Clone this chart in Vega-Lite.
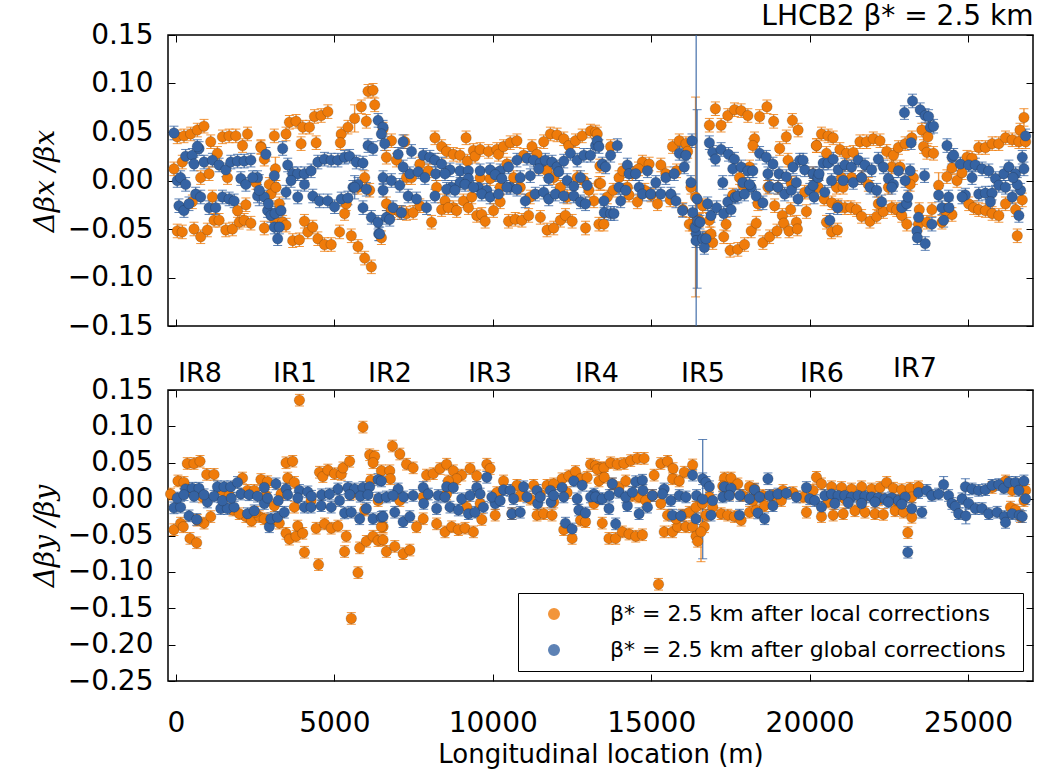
{
"$schema": "https://vega.github.io/schema/vega-lite/v6.json",
"background": "white",
"padding": {"left": 30, "top": 2, "right": 5, "bottom": 5},
"bounds": "flush",
"spacing": 64,
"config": {
 "view": {"stroke": "#000", "strokeWidth": 1.5},
 "font": "DejaVu Sans",
 "axis": {"domain": false, "grid": false, "labelFont": "DejaVu Sans", "labelFontSize": 28, "labelColor": "#000", "tickColor": "#000", "tickSize": -7, "tickWidth": 1, "labelPadding": 22, "titleFontSize": 27, "titleColor": "#000", "titleFontWeight": "normal", "labelFlush": false, "labelOverlap": false, "labelBound": false}
},
"datasets": {
"bx": [
{"s":"L","x":42,"y":0.045,"e":0.007},{"s":"L","x":254,"y":0.046,"e":0.007},{"s":"L","x":465,"y":0.048,"e":0.007},{"s":"L","x":676,"y":0.052,"e":0.007},{"s":"L","x":887,"y":0.056,"e":0.007},{"s":"L","x":1099,"y":0.040,"e":0.007},{"s":"L","x":1468,"y":0.045,"e":0.007},{"s":"L","x":1680,"y":0.046,"e":0.007},{"s":"L","x":1891,"y":0.046,"e":0.007},{"s":"L","x":2260,"y":0.048,"e":0.007},{"s":"L","x":2102,"y":0.036,"e":0.007},{"s":"L","x":2683,"y":0.035,"e":0.007},{"s":"L","x":3105,"y":0.046,"e":0.007},{"s":"L","x":3475,"y":0.048,"e":0.007},{"s":"L","x":3581,"y":0.060,"e":0.007},{"s":"L","x":3792,"y":0.061,"e":0.007},{"s":"L","x":4003,"y":0.055,"e":0.007},{"s":"L","x":4214,"y":0.055,"e":0.007},{"s":"L","x":4373,"y":0.066,"e":0.007},{"s":"L","x":4584,"y":0.067,"e":0.007},{"s":"L","x":4795,"y":0.071,"e":0.007},{"s":"L","x":3950,"y":0.038,"e":0.007},{"s":"L","x":4426,"y":0.039,"e":0.007},{"s":"L","x":5218,"y":0.048,"e":0.007},{"s":"L","x":5190,"y":0.039,"e":0.007},{"s":"L","x":5429,"y":0.055,"e":0.007},{"s":"L","x":5640,"y":0.064,"e":0.014},{"s":"L","x":5851,"y":0.076,"e":0.007},{"s":"L","x":6063,"y":0.092,"e":0.007},{"s":"L","x":6221,"y":0.093,"e":0.007},{"s":"L","x":6274,"y":0.078,"e":0.007},{"s":"L","x":6010,"y":0.061,"e":0.007},{"s":"L","x":5535,"y":-0.057,"e":0.007},{"s":"L","x":5746,"y":-0.068,"e":0.007},{"s":"L","x":5957,"y":-0.080,"e":0.007},{"s":"L","x":6168,"y":-0.089,"e":0.007},
{"s":"L","x":42,"y":-0.052,"e":0.007},{"s":"L","x":201,"y":-0.053,"e":0.007},{"s":"L","x":571,"y":-0.050,"e":0.007},{"s":"L","x":782,"y":-0.058,"e":0.007},{"s":"L","x":993,"y":-0.051,"e":0.007},{"s":"L","x":1204,"y":-0.041,"e":0.007},{"s":"L","x":1363,"y":-0.041,"e":0.007},{"s":"L","x":1574,"y":-0.051,"e":0.007},{"s":"L","x":1785,"y":-0.050,"e":0.007},{"s":"L","x":1997,"y":-0.043,"e":0.007},{"s":"L","x":2155,"y":-0.041,"e":0.007},{"s":"L","x":2366,"y":-0.044,"e":0.007},{"s":"L","x":2789,"y":-0.049,"e":0.007},{"s":"L","x":3105,"y":-0.040,"e":0.007},{"s":"L","x":3686,"y":-0.062,"e":0.007},{"s":"L","x":3897,"y":-0.061,"e":0.007},{"s":"L","x":4056,"y":-0.042,"e":0.007},{"s":"L","x":4162,"y":-0.053,"e":0.007},{"s":"L","x":4320,"y":-0.048,"e":0.007},{"s":"L","x":4479,"y":-0.060,"e":0.007},{"s":"L","x":4690,"y":-0.066,"e":0.007},{"s":"L","x":4901,"y":-0.066,"e":0.007},{"s":"L","x":5165,"y":-0.053,"e":0.007},
{"s":"L","x":-63,"y":0.012,"e":0.007},{"s":"L","x":201,"y":0.019,"e":0.007},{"s":"L","x":518,"y":-0.022,"e":0.007},{"s":"L","x":782,"y":0.003,"e":0.007},{"s":"L","x":1046,"y":0.007,"e":0.007},{"s":"L","x":1152,"y":-0.017,"e":0.007},{"s":"L","x":1310,"y":0.028,"e":0.007},{"s":"L","x":1627,"y":0.003,"e":0.007},{"s":"L","x":1944,"y":-0.031,"e":0.007},{"s":"L","x":2208,"y":-0.025,"e":0.007},{"s":"L","x":2525,"y":-0.002,"e":0.007},{"s":"L","x":2683,"y":0.034,"e":0.007},{"s":"L","x":2789,"y":0.022,"e":0.007},{"s":"L","x":2947,"y":-0.004,"e":0.007},{"s":"L","x":3000,"y":-0.014,"e":0.007},{"s":"L","x":3140,"y":0.012,"e":0.012},{"s":"L","x":3158,"y":-0.007,"e":0.007},{"s":"L","x":3264,"y":-0.024,"e":0.007},{"s":"L","x":3369,"y":-0.043,"e":0.007},{"s":"L","x":3475,"y":-0.046,"e":0.007},{"s":"L","x":5323,"y":-0.034,"e":0.007},{"s":"L","x":5376,"y":-0.024,"e":0.007},{"s":"L","x":5746,"y":-0.007,"e":0.007},{"s":"L","x":5957,"y":0.003,"e":0.007},{"s":"L","x":6115,"y":-0.010,"e":0.007},
{"s":"L","x":6538,"y":0.053,"e":0.007},{"s":"L","x":6802,"y":0.041,"e":0.007},{"s":"L","x":7224,"y":0.040,"e":0.007},{"s":"L","x":8175,"y":0.044,"e":0.007},{"s":"L","x":8386,"y":0.035,"e":0.007},{"s":"L","x":8544,"y":0.030,"e":0.007},{"s":"L","x":8756,"y":0.027,"e":0.007},{"s":"L","x":8967,"y":0.026,"e":0.007},{"s":"L","x":9157,"y":0.044,"e":0.007},{"s":"L","x":9199,"y":0.020,"e":0.007},{"s":"L","x":9389,"y":0.031,"e":0.007},{"s":"L","x":9442,"y":0.025,"e":0.007},{"s":"L","x":9601,"y":0.032,"e":0.007},{"s":"L","x":9865,"y":0.030,"e":0.007},{"s":"L","x":10129,"y":0.032,"e":0.007},{"s":"L","x":10182,"y":0.027,"e":0.007},{"s":"L","x":10340,"y":0.035,"e":0.007},{"s":"L","x":10551,"y":0.039,"e":0.007},{"s":"L","x":10763,"y":0.041,"e":0.007},{"s":"L","x":10974,"y":0.026,"e":0.007},{"s":"L","x":11238,"y":0.035,"e":0.007},{"s":"L","x":11396,"y":0.027,"e":0.007},{"s":"L","x":11607,"y":0.040,"e":0.007},{"s":"L","x":11819,"y":0.048,"e":0.007},{"s":"L","x":12030,"y":0.047,"e":0.007},{"s":"L","x":12241,"y":0.043,"e":0.007},{"s":"L","x":12400,"y":0.036,"e":0.007},{"s":"L","x":12611,"y":0.041,"e":0.007},{"s":"L","x":12822,"y":0.046,"e":0.007},{"s":"L","x":13086,"y":0.051,"e":0.007},{"s":"L","x":13244,"y":0.050,"e":0.007},{"s":"L","x":13350,"y":-0.003,"e":0.007},
{"s":"L","x":6643,"y":0.024,"e":0.007},{"s":"L","x":6960,"y":0.021,"e":0.007},{"s":"L","x":7277,"y":0.003,"e":0.007},{"s":"L","x":7435,"y":0.003,"e":0.007},{"s":"L","x":7699,"y":0.017,"e":0.007},{"s":"L","x":7963,"y":0.010,"e":0.007},{"s":"L","x":8228,"y":-0.007,"e":0.007},{"s":"L","x":8492,"y":-0.021,"e":0.007},{"s":"L","x":8756,"y":-0.028,"e":0.007},{"s":"L","x":9073,"y":-0.021,"e":0.007},{"s":"L","x":9337,"y":-0.017,"e":0.007},{"s":"L","x":9601,"y":0.003,"e":0.007},{"s":"L","x":9917,"y":0.002,"e":0.007},{"s":"L","x":10234,"y":-0.007,"e":0.007},{"s":"L","x":10445,"y":0.017,"e":0.007},{"s":"L","x":10657,"y":0.003,"e":0.007},{"s":"L","x":10868,"y":-0.007,"e":0.007},{"s":"L","x":11185,"y":-0.017,"e":0.007},{"s":"L","x":11502,"y":0.014,"e":0.007},{"s":"L","x":11713,"y":0.010,"e":0.007},{"s":"L","x":11924,"y":0.003,"e":0.007},{"s":"L","x":12135,"y":-0.007,"e":0.007},{"s":"L","x":12347,"y":-0.017,"e":0.007},{"s":"L","x":12664,"y":0.003,"e":0.007},{"s":"L","x":12875,"y":0.0,"e":0.007},{"s":"L","x":13033,"y":-0.010,"e":0.007},
{"s":"L","x":6485,"y":-0.059,"e":0.007},{"s":"L","x":6643,"y":-0.024,"e":0.007},{"s":"L","x":6802,"y":-0.031,"e":0.007},{"s":"L","x":7066,"y":-0.033,"e":0.007},{"s":"L","x":7277,"y":-0.034,"e":0.007},{"s":"L","x":7488,"y":-0.033,"e":0.007},{"s":"L","x":7699,"y":-0.026,"e":0.007},{"s":"L","x":8069,"y":-0.043,"e":0.007},{"s":"L","x":8386,"y":-0.030,"e":0.007},{"s":"L","x":8597,"y":-0.028,"e":0.007},{"s":"L","x":8861,"y":-0.031,"e":0.007},{"s":"L","x":9231,"y":-0.028,"e":0.007},{"s":"L","x":9495,"y":-0.036,"e":0.007},{"s":"L","x":9653,"y":-0.035,"e":0.007},{"s":"L","x":9759,"y":-0.042,"e":0.007},{"s":"L","x":10023,"y":-0.031,"e":0.007},{"s":"L","x":10234,"y":-0.022,"e":0.007},{"s":"L","x":10498,"y":-0.042,"e":0.007},{"s":"L","x":10710,"y":-0.040,"e":0.007},{"s":"L","x":10921,"y":-0.041,"e":0.007},{"s":"L","x":11132,"y":-0.036,"e":0.007},{"s":"L","x":11502,"y":-0.038,"e":0.007},{"s":"L","x":11713,"y":-0.051,"e":0.007},{"s":"L","x":11924,"y":-0.049,"e":0.007},{"s":"L","x":12135,"y":-0.041,"e":0.007},{"s":"L","x":12294,"y":-0.036,"e":0.007},{"s":"L","x":12505,"y":-0.042,"e":0.007},{"s":"L","x":12928,"y":-0.049,"e":0.007},{"s":"L","x":13192,"y":-0.021,"e":0.007},{"s":"L","x":13350,"y":-0.045,"e":0.007},
{"s":"L","x":13298,"y":0.048,"e":0.007},{"s":"L","x":13403,"y":-0.003,"e":0.007},{"s":"L","x":13509,"y":-0.045,"e":0.007},{"s":"L","x":13615,"y":-0.017,"e":0.007},{"s":"L","x":13720,"y":0.035,"e":0.007},{"s":"L","x":13984,"y":0.003,"e":0.007},{"s":"L","x":14248,"y":-0.007,"e":0.007},{"s":"L","x":14407,"y":0.007,"e":0.007},{"s":"L","x":14565,"y":-0.022,"e":0.007},{"s":"L","x":14724,"y":0.019,"e":0.007},{"s":"L","x":14935,"y":0.017,"e":0.007},{"s":"L","x":15199,"y":-0.024,"e":0.007},{"s":"L","x":15305,"y":0.016,"e":0.007},{"s":"L","x":15463,"y":0.007,"e":0.007},{"s":"L","x":15674,"y":0.035,"e":0.007},{"s":"L","x":15886,"y":0.041,"e":0.007},{"s":"L","x":16097,"y":0.038,"e":0.007},{"s":"L","x":16255,"y":-0.007,"e":0.007},{"s":"L","x":16308,"y":-0.045,"e":0.007},{"s":"L","x":13380,"y":0.015,"e":0.007},{"s":"L","x":13800,"y":-0.010,"e":0.007},{"s":"L","x":14100,"y":0.010,"e":0.007},{"s":"L","x":14300,"y":-0.015,"e":0.007},{"s":"L","x":14600,"y":0.012,"e":0.007},{"s":"L","x":14800,"y":-0.010,"e":0.007},{"s":"L","x":15000,"y":-0.015,"e":0.007},{"s":"L","x":15600,"y":-0.020,"e":0.007},{"s":"L","x":15800,"y":0.010,"e":0.007},{"s":"L","x":16000,"y":-0.030,"e":0.007},{"s":"L","x":16150,"y":0.030,"e":0.007},
{"s":"L","x":16400,"y":-0.017,"e":0.103},{"s":"L","x":16202,"y":-0.045,"e":0.007},{"s":"L","x":16361,"y":-0.048,"e":0.007},{"s":"L","x":16519,"y":-0.041,"e":0.007},{"s":"L","x":16625,"y":-0.026,"e":0.007},{"s":"L","x":16730,"y":-0.059,"e":0.007},
{"s":"L","x":16836,"y":0.057,"e":0.007},{"s":"L","x":17026,"y":0.074,"e":0.007},{"s":"L","x":17206,"y":0.057,"e":0.007},{"s":"L","x":17417,"y":0.067,"e":0.007},{"s":"L","x":17628,"y":0.073,"e":0.007},{"s":"L","x":17839,"y":0.072,"e":0.007},{"s":"L","x":18051,"y":0.067,"e":0.007},{"s":"L","x":18421,"y":0.066,"e":0.007},{"s":"L","x":18653,"y":0.076,"e":0.007},{"s":"L","x":18864,"y":0.061,"e":0.007},{"s":"L","x":19456,"y":0.062,"e":0.007},{"s":"L","x":19635,"y":0.052,"e":0.007},{"s":"L","x":19265,"y":0.045,"e":0.007},{"s":"L","x":19054,"y":0.033,"e":0.007},{"s":"L","x":18262,"y":0.043,"e":0.007},{"s":"L","x":18209,"y":0.036,"e":0.007},
{"s":"L","x":16942,"y":-0.064,"e":0.007},{"s":"L","x":17290,"y":-0.058,"e":0.007},{"s":"L","x":17491,"y":-0.072,"e":0.007},{"s":"L","x":17734,"y":-0.071,"e":0.007},{"s":"L","x":17945,"y":-0.066,"e":0.007},{"s":"L","x":18156,"y":-0.052,"e":0.007},{"s":"L","x":18315,"y":-0.044,"e":0.007},{"s":"L","x":18526,"y":-0.064,"e":0.007},{"s":"L","x":18737,"y":-0.058,"e":0.007},{"s":"L","x":18970,"y":-0.052,"e":0.007},{"s":"L","x":19139,"y":-0.036,"e":0.007},{"s":"L","x":19181,"y":-0.044,"e":0.007},{"s":"L","x":19350,"y":-0.052,"e":0.007},{"s":"L","x":19403,"y":-0.030,"e":0.007},{"s":"L","x":19582,"y":-0.043,"e":0.007},{"s":"L","x":19614,"y":-0.050,"e":0.007},{"s":"L","x":19899,"y":-0.032,"e":0.007},{"s":"L","x":18896,"y":-0.026,"e":0.007},
{"s":"L","x":16836,"y":-0.041,"e":0.007},{"s":"L","x":16889,"y":-0.055,"e":0.007},{"s":"L","x":17364,"y":-0.045,"e":0.007},{"s":"L","x":17575,"y":-0.015,"e":0.007},{"s":"L","x":17787,"y":0.003,"e":0.007},{"s":"L","x":17892,"y":-0.005,"e":0.007},{"s":"L","x":18104,"y":0.014,"e":0.007},{"s":"L","x":18368,"y":-0.024,"e":0.007},{"s":"L","x":18684,"y":-0.007,"e":0.007},{"s":"L","x":19001,"y":-0.007,"e":0.007},{"s":"L","x":19318,"y":0.021,"e":0.007},{"s":"L","x":19424,"y":-0.003,"e":0.007},{"s":"L","x":19846,"y":-0.012,"e":0.007},{"s":"L","x":20110,"y":0.007,"e":0.007},{"s":"L","x":20216,"y":0.036,"e":0.007},
{"s":"L","x":20215,"y":0.036,"e":0.007},{"s":"L","x":20374,"y":0.048,"e":0.007},{"s":"L","x":20585,"y":0.046,"e":0.007},{"s":"L","x":20744,"y":0.044,"e":0.007},{"s":"L","x":20532,"y":0.028,"e":0.007},{"s":"L","x":20955,"y":0.032,"e":0.007},{"s":"L","x":21166,"y":0.028,"e":0.007},{"s":"L","x":21377,"y":0.029,"e":0.007},{"s":"L","x":21588,"y":0.040,"e":0.007},{"s":"L","x":21800,"y":0.040,"e":0.007},{"s":"L","x":22011,"y":0.043,"e":0.007},{"s":"L","x":22222,"y":0.041,"e":0.007},{"s":"L","x":22433,"y":0.030,"e":0.007},{"s":"L","x":22645,"y":0.026,"e":0.007},{"s":"L","x":22803,"y":0.034,"e":0.007},{"s":"L","x":23014,"y":0.038,"e":0.007},{"s":"L","x":23226,"y":0.044,"e":0.007},{"s":"L","x":23542,"y":0.052,"e":0.007},{"s":"L","x":23733,"y":0.045,"e":0.007},{"s":"L","x":23595,"y":0.035,"e":0.007},{"s":"L","x":23701,"y":0.029,"e":0.007},{"s":"L","x":23912,"y":0.028,"e":0.007},
{"s":"L","x":20268,"y":-0.007,"e":0.007},{"s":"L","x":20849,"y":-0.007,"e":0.007},{"s":"L","x":21060,"y":-0.007,"e":0.007},{"s":"L","x":20532,"y":-0.043,"e":0.007},{"s":"L","x":20691,"y":-0.053,"e":0.007},{"s":"L","x":20881,"y":-0.051,"e":0.007},{"s":"L","x":20458,"y":-0.019,"e":0.007},{"s":"L","x":20700,"y":-0.023,"e":0.007},{"s":"L","x":20902,"y":-0.026,"e":0.007},{"s":"L","x":21113,"y":-0.028,"e":0.007},{"s":"L","x":21303,"y":-0.028,"e":0.007},{"s":"L","x":21483,"y":-0.030,"e":0.007},{"s":"L","x":21641,"y":-0.037,"e":0.007},{"s":"L","x":21905,"y":-0.042,"e":0.007},{"s":"L","x":22117,"y":-0.037,"e":0.007},{"s":"L","x":22328,"y":-0.032,"e":0.007},{"s":"L","x":22592,"y":-0.028,"e":0.007},{"s":"L","x":22750,"y":-0.030,"e":0.007},{"s":"L","x":22909,"y":-0.036,"e":0.007},{"s":"L","x":23067,"y":-0.045,"e":0.007},{"s":"L","x":23437,"y":-0.045,"e":0.007},{"s":"L","x":23701,"y":-0.043,"e":0.007},{"s":"L","x":23460,"y":-0.030,"e":0.007},{"s":"L","x":23859,"y":-0.030,"e":0.007},{"s":"L","x":24071,"y":-0.005,"e":0.013},{"s":"L","x":24333,"y":0.004,"e":0.007},{"s":"L","x":24493,"y":0.013,"e":0.007},{"s":"L","x":24651,"y":0.0,"e":0.007},{"s":"L","x":24810,"y":0.008,"e":0.007},{"s":"L","x":24968,"y":0.024,"e":0.007},{"s":"L","x":25127,"y":0.023,"e":0.007},{"s":"L","x":25338,"y":0.034,"e":0.007},{"s":"L","x":25549,"y":0.034,"e":0.007},{"s":"L","x":25760,"y":0.038,"e":0.007},{"s":"L","x":25972,"y":0.038,"e":0.007},{"s":"L","x":26183,"y":0.044,"e":0.007},{"s":"L","x":26394,"y":0.042,"e":0.007},{"s":"L","x":26605,"y":0.040,"e":0.007},{"s":"L","x":26817,"y":0.040,"e":0.007},{"s":"L","x":26640,"y":0.052,"e":0.007},{"s":"L","x":26764,"y":0.065,"e":0.009},{"s":"L","x":25021,"y":-0.024,"e":0.007},{"s":"L","x":25180,"y":-0.028,"e":0.007},{"s":"L","x":25338,"y":-0.030,"e":0.007},{"s":"L","x":25549,"y":-0.031,"e":0.007},{"s":"L","x":25760,"y":-0.034,"e":0.007},{"s":"L","x":25972,"y":-0.036,"e":0.007},{"s":"L","x":26183,"y":-0.024,"e":0.007},{"s":"L","x":26500,"y":-0.030,"e":0.007},{"s":"L","x":26553,"y":-0.057,"e":0.007},{"s":"L","x":26711,"y":-0.020,"e":0.007},{"s":"L","x":24493,"y":-0.035,"e":0.007},{"s":"L","x":24282,"y":-0.031,"e":0.007},{"s":"L","x":24176,"y":-0.043,"e":0.007},{"s":"L","x":22592,"y":0.014,"e":0.007},{"s":"L","x":22856,"y":0.014,"e":0.007},{"s":"L","x":22486,"y":-0.007,"e":0.007},{"s":"L","x":22169,"y":-0.024,"e":0.007},{"s":"L","x":21852,"y":-0.004,"e":0.007},{"s":"L","x":21641,"y":0.003,"e":0.007},{"s":"L","x":21324,"y":0.003,"e":0.007},{"s":"L","x":21008,"y":0.003,"e":0.007},{"s":"L","x":23278,"y":0.003,"e":0.007},{"s":"L","x":23173,"y":-0.004,"e":0.007},
{"s":"G","x":-63,"y":0.049,"e":0.007},{"s":"G","x":307,"y":0.025,"e":0.007},{"s":"G","x":518,"y":0.026,"e":0.007},{"s":"G","x":571,"y":0.017,"e":0.007},{"s":"G","x":729,"y":0.033,"e":0.007},{"s":"G","x":887,"y":0.019,"e":0.007},{"s":"G","x":1152,"y":0.021,"e":0.007},{"s":"G","x":1363,"y":0.016,"e":0.007},{"s":"G","x":1574,"y":0.011,"e":0.007},{"s":"G","x":1732,"y":0.019,"e":0.007},{"s":"G","x":1944,"y":0.020,"e":0.007},{"s":"G","x":2155,"y":0.020,"e":0.007},{"s":"G","x":2366,"y":0.021,"e":0.007},{"s":"G","x":2577,"y":0.003,"e":0.007},{"s":"G","x":2841,"y":0.027,"e":0.007},{"s":"G","x":3105,"y":0.005,"e":0.007},{"s":"G","x":3369,"y":0.033,"e":0.007},{"s":"G","x":3528,"y":0.016,"e":0.007},{"s":"G","x":3686,"y":0.007,"e":0.007},{"s":"G","x":3845,"y":0.007,"e":0.007},{"s":"G","x":4056,"y":0.007,"e":0.007},{"s":"G","x":4267,"y":0.010,"e":0.007},{"s":"G","x":4479,"y":0.019,"e":0.007},{"s":"G","x":4690,"y":0.022,"e":0.007},{"s":"G","x":4901,"y":0.021,"e":0.007},{"s":"G","x":5112,"y":0.021,"e":0.007},{"s":"G","x":5323,"y":0.024,"e":0.007},{"s":"G","x":5482,"y":0.025,"e":0.007},{"s":"G","x":5693,"y":0.019,"e":0.007},{"s":"G","x":5904,"y":0.018,"e":0.007},{"s":"G","x":6063,"y":0.036,"e":0.007},{"s":"G","x":6221,"y":0.033,"e":0.007},{"s":"G","x":6380,"y":0.062,"e":0.007},{"s":"G","x":6538,"y":0.055,"e":0.007},{"s":"G","x":6485,"y":0.048,"e":0.007},
{"s":"G","x":42,"y":0.0,"e":0.007},{"s":"G","x":148,"y":0.003,"e":0.007},{"s":"G","x":307,"y":-0.004,"e":0.007},{"s":"G","x":623,"y":-0.014,"e":0.007},{"s":"G","x":782,"y":-0.017,"e":0.007},{"s":"G","x":1046,"y":-0.028,"e":0.007},{"s":"G","x":1257,"y":-0.028,"e":0.007},{"s":"G","x":1468,"y":-0.017,"e":0.007},{"s":"G","x":1680,"y":-0.019,"e":0.007},{"s":"G","x":1838,"y":-0.021,"e":0.007},{"s":"G","x":2049,"y":0.002,"e":0.007},{"s":"G","x":2208,"y":-0.004,"e":0.007},{"s":"G","x":2419,"y":0.003,"e":0.007},{"s":"G","x":2577,"y":-0.016,"e":0.007},{"s":"G","x":2789,"y":-0.017,"e":0.007},{"s":"G","x":2894,"y":-0.031,"e":0.007},{"s":"G","x":3000,"y":-0.036,"e":0.007},{"s":"G","x":3105,"y":-0.048,"e":0.007},{"s":"G","x":3264,"y":-0.048,"e":0.007},{"s":"G","x":3211,"y":-0.060,"e":0.007},{"s":"G","x":3475,"y":-0.012,"e":0.007},{"s":"G","x":3634,"y":0.0,"e":0.007},{"s":"G","x":3845,"y":-0.017,"e":0.007},{"s":"G","x":4056,"y":-0.004,"e":0.007},{"s":"G","x":4320,"y":-0.016,"e":0.007},{"s":"G","x":4531,"y":-0.021,"e":0.007},{"s":"G","x":4795,"y":-0.021,"e":0.007},{"s":"G","x":5007,"y":-0.027,"e":0.007},{"s":"G","x":5218,"y":-0.019,"e":0.007},{"s":"G","x":5429,"y":-0.018,"e":0.007},{"s":"G","x":5587,"y":-0.007,"e":0.007},{"s":"G","x":5746,"y":-0.004,"e":0.007},{"s":"G","x":5904,"y":-0.028,"e":0.007},{"s":"G","x":6010,"y":-0.009,"e":0.007},{"s":"G","x":6168,"y":-0.038,"e":0.007},{"s":"G","x":6380,"y":-0.043,"e":0.007},{"s":"G","x":6400,"y":-0.055,"e":0.007},{"s":"G","x":6538,"y":-0.010,"e":0.007},{"s":"G","x":95,"y":-0.026,"e":0.007},{"s":"G","x":254,"y":-0.031,"e":0.007},{"s":"G","x":412,"y":-0.024,"e":0.007},{"s":"G","x":676,"y":0.035,"e":0.007},{"s":"G","x":2920,"y":-0.024,"e":0.007},{"s":"G","x":3130,"y":-0.034,"e":0.007},{"s":"G","x":3317,"y":-0.031,"e":0.007},{"s":"G","x":2630,"y":-0.010,"e":0.016},{"s":"G","x":5640,"y":-0.007,"e":0.012},
{"s":"G","x":6590,"y":0.038,"e":0.007},{"s":"G","x":7171,"y":0.040,"e":0.007},{"s":"G","x":7435,"y":0.030,"e":0.007},{"s":"G","x":7013,"y":0.027,"e":0.007},{"s":"G","x":7805,"y":0.026,"e":0.007},{"s":"G","x":8016,"y":0.024,"e":0.007},{"s":"G","x":8175,"y":0.021,"e":0.007},{"s":"G","x":8386,"y":0.017,"e":0.007},{"s":"G","x":8650,"y":0.011,"e":0.007},{"s":"G","x":8967,"y":0.010,"e":0.007},{"s":"G","x":9231,"y":0.010,"e":0.007},{"s":"G","x":9601,"y":0.010,"e":0.007},{"s":"G","x":9917,"y":0.011,"e":0.007},{"s":"G","x":10234,"y":0.010,"e":0.007},{"s":"G","x":10498,"y":0.014,"e":0.007},{"s":"G","x":10763,"y":0.021,"e":0.007},{"s":"G","x":11079,"y":0.023,"e":0.007},{"s":"G","x":11290,"y":0.021,"e":0.007},{"s":"G","x":11502,"y":0.018,"e":0.007},{"s":"G","x":11660,"y":0.021,"e":0.007},{"s":"G","x":11871,"y":0.019,"e":0.007},{"s":"G","x":12030,"y":0.014,"e":0.007},{"s":"G","x":12241,"y":0.020,"e":0.007},{"s":"G","x":12452,"y":0.028,"e":0.007},{"s":"G","x":12664,"y":0.021,"e":0.007},{"s":"G","x":12875,"y":0.026,"e":0.007},{"s":"G","x":13086,"y":0.026,"e":0.007},{"s":"G","x":13244,"y":0.036,"e":0.007},
{"s":"G","x":6538,"y":0.003,"e":0.007},{"s":"G","x":6802,"y":0.0,"e":0.007},{"s":"G","x":7066,"y":-0.005,"e":0.007},{"s":"G","x":7382,"y":0.007,"e":0.007},{"s":"G","x":7646,"y":0.009,"e":0.007},{"s":"G","x":7858,"y":0.003,"e":0.007},{"s":"G","x":8200,"y":0.007,"e":0.007},{"s":"G","x":8492,"y":0.007,"e":0.007},{"s":"G","x":8703,"y":-0.007,"e":0.007},{"s":"G","x":8967,"y":-0.002,"e":0.007},{"s":"G","x":9231,"y":0.002,"e":0.007},{"s":"G","x":9548,"y":-0.007,"e":0.007},{"s":"G","x":9812,"y":-0.010,"e":0.007},{"s":"G","x":10076,"y":0.006,"e":0.007},{"s":"G","x":10287,"y":0.002,"e":0.007},{"s":"G","x":10551,"y":-0.007,"e":0.007},{"s":"G","x":10868,"y":0.003,"e":0.007},{"s":"G","x":11185,"y":0.005,"e":0.007},{"s":"G","x":11449,"y":0.012,"e":0.007},{"s":"G","x":11766,"y":0.002,"e":0.007},{"s":"G","x":12082,"y":0.009,"e":0.007},{"s":"G","x":12347,"y":0.0,"e":0.007},{"s":"G","x":12558,"y":-0.006,"e":0.007},{"s":"G","x":12769,"y":0.003,"e":0.007},{"s":"G","x":12980,"y":-0.005,"e":0.007},
{"s":"G","x":6643,"y":-0.038,"e":0.007},{"s":"G","x":6854,"y":-0.028,"e":0.007},{"s":"G","x":7119,"y":-0.033,"e":0.007},{"s":"G","x":7330,"y":-0.016,"e":0.007},{"s":"G","x":7594,"y":-0.019,"e":0.007},{"s":"G","x":7910,"y":-0.028,"e":0.007},{"s":"G","x":8175,"y":-0.016,"e":0.007},{"s":"G","x":8544,"y":-0.009,"e":0.007},{"s":"G","x":8808,"y":-0.010,"e":0.007},{"s":"G","x":9125,"y":-0.004,"e":0.007},{"s":"G","x":9389,"y":-0.007,"e":0.007},{"s":"G","x":9653,"y":-0.014,"e":0.007},{"s":"G","x":9917,"y":-0.017,"e":0.007},{"s":"G","x":10182,"y":-0.014,"e":0.007},{"s":"G","x":10445,"y":-0.007,"e":0.007},{"s":"G","x":10763,"y":-0.009,"e":0.007},{"s":"G","x":11026,"y":-0.021,"e":0.007},{"s":"G","x":11343,"y":-0.014,"e":0.007},{"s":"G","x":11607,"y":-0.012,"e":0.007},{"s":"G","x":11766,"y":-0.019,"e":0.007},{"s":"G","x":11977,"y":-0.014,"e":0.007},{"s":"G","x":12241,"y":-0.016,"e":0.007},{"s":"G","x":12558,"y":-0.016,"e":0.007},{"s":"G","x":12769,"y":-0.022,"e":0.007},{"s":"G","x":12928,"y":-0.024,"e":0.007},{"s":"G","x":6432,"y":-0.055,"e":0.007},{"s":"G","x":6749,"y":-0.040,"e":0.007},{"s":"G","x":7171,"y":0.014,"e":0.007},
{"s":"G","x":13298,"y":0.041,"e":0.007},{"s":"G","x":13351,"y":0.035,"e":0.007},{"s":"G","x":13456,"y":0.017,"e":0.007},{"s":"G","x":13562,"y":0.014,"e":0.007},{"s":"G","x":13720,"y":0.026,"e":0.007},{"s":"G","x":13932,"y":0.036,"e":0.007},{"s":"G","x":13509,"y":-0.021,"e":0.007},{"s":"G","x":13520,"y":-0.033,"e":0.007},{"s":"G","x":13720,"y":-0.034,"e":0.007},{"s":"G","x":13826,"y":-0.034,"e":0.007},{"s":"G","x":13984,"y":-0.007,"e":0.007},{"s":"G","x":14037,"y":-0.021,"e":0.007},{"s":"G","x":14196,"y":-0.010,"e":0.007},{"s":"G","x":14248,"y":0.016,"e":0.007},{"s":"G","x":14301,"y":0.007,"e":0.007},{"s":"G","x":14512,"y":0.007,"e":0.007},{"s":"G","x":14618,"y":-0.007,"e":0.007},{"s":"G","x":14724,"y":-0.014,"e":0.007},{"s":"G","x":14882,"y":0.010,"e":0.007},{"s":"G","x":14988,"y":-0.014,"e":0.007},{"s":"G","x":15146,"y":-0.002,"e":0.007},{"s":"G","x":15305,"y":-0.014,"e":0.007},{"s":"G","x":15463,"y":0.003,"e":0.007},{"s":"G","x":15621,"y":-0.014,"e":0.007},{"s":"G","x":15727,"y":0.007,"e":0.007},{"s":"G","x":15780,"y":-0.021,"e":0.007},{"s":"G","x":15886,"y":0.028,"e":0.007},{"s":"G","x":15991,"y":-0.031,"e":0.007},{"s":"G","x":16044,"y":0.014,"e":0.007},{"s":"G","x":16097,"y":0.026,"e":0.007},{"s":"G","x":16255,"y":-0.002,"e":0.007},{"s":"G","x":16308,"y":-0.033,"e":0.007},{"s":"G","x":16287,"y":0.041,"e":0.007},
{"s":"G","x":16420,"y":-0.055,"e":0.3},{"s":"G","x":16450,"y":-0.019,"e":0.092},{"s":"G","x":16392,"y":-0.048,"e":0.007},{"s":"G","x":16466,"y":-0.042,"e":0.007},{"s":"G","x":16540,"y":-0.043,"e":0.007},{"s":"G","x":16414,"y":-0.062,"e":0.007},{"s":"G","x":16625,"y":-0.060,"e":0.007},{"s":"G","x":16678,"y":-0.069,"e":0.007},{"s":"G","x":16730,"y":-0.060,"e":0.007},{"s":"G","x":16783,"y":-0.024,"e":0.007},{"s":"G","x":16889,"y":-0.036,"e":0.007},{"s":"G","x":17068,"y":-0.028,"e":0.007},{"s":"G","x":17290,"y":-0.034,"e":0.007},{"s":"G","x":17417,"y":-0.022,"e":0.007},{"s":"G","x":17522,"y":-0.030,"e":0.007},
{"s":"G","x":16836,"y":0.039,"e":0.007},{"s":"G","x":16942,"y":0.029,"e":0.007},{"s":"G","x":17026,"y":0.022,"e":0.007},{"s":"G","x":17206,"y":0.032,"e":0.007},{"s":"G","x":17440,"y":0.027,"e":0.007},{"s":"G","x":17628,"y":0.022,"e":0.007},{"s":"G","x":17259,"y":-0.002,"e":0.007},{"s":"G","x":17575,"y":0.012,"e":0.007},{"s":"G","x":17839,"y":0.014,"e":0.007},{"s":"G","x":18051,"y":0.010,"e":0.007},{"s":"G","x":18209,"y":0.010,"e":0.007},{"s":"G","x":18421,"y":0.028,"e":0.007},{"s":"G","x":18632,"y":0.024,"e":0.007},{"s":"G","x":18843,"y":0.017,"e":0.007},{"s":"G","x":19033,"y":0.007,"e":0.007},{"s":"G","x":19265,"y":0.004,"e":0.007},{"s":"G","x":19477,"y":0.014,"e":0.007},{"s":"G","x":19688,"y":0.021,"e":0.007},{"s":"G","x":19846,"y":0.011,"e":0.007},{"s":"G","x":20110,"y":0.007,"e":0.007},{"s":"G","x":17892,"y":-0.002,"e":0.007},{"s":"G","x":18156,"y":-0.007,"e":0.007},{"s":"G","x":18315,"y":-0.016,"e":0.007},{"s":"G","x":18526,"y":-0.023,"e":0.007},{"s":"G","x":18737,"y":-0.006,"e":0.007},{"s":"G","x":19001,"y":-0.007,"e":0.007},{"s":"G","x":19213,"y":-0.014,"e":0.007},{"s":"G","x":19424,"y":-0.010,"e":0.007},{"s":"G","x":19635,"y":-0.019,"e":0.007},{"s":"G","x":20005,"y":-0.010,"e":0.007},{"s":"G","x":17650,"y":-0.017,"e":0.007},{"s":"G","x":17734,"y":-0.016,"e":0.007},{"s":"G","x":17945,"y":-0.014,"e":0.007},{"s":"G","x":18104,"y":-0.004,"e":0.007},{"s":"G","x":18684,"y":0.007,"e":0.007},{"s":"G","x":19582,"y":-0.002,"e":0.007},{"s":"G","x":19794,"y":0.021,"e":0.007},
{"s":"G","x":20110,"y":-0.005,"e":0.007},{"s":"G","x":20140,"y":-0.017,"e":0.007},{"s":"G","x":20479,"y":-0.012,"e":0.007},{"s":"G","x":20881,"y":-0.028,"e":0.007},{"s":"G","x":20638,"y":-0.041,"e":0.007},{"s":"G","x":20268,"y":0.003,"e":0.007},{"s":"G","x":20427,"y":0.018,"e":0.007},{"s":"G","x":20585,"y":0.018,"e":0.007},{"s":"G","x":20744,"y":0.022,"e":0.007},{"s":"G","x":20902,"y":0.011,"e":0.007},{"s":"G","x":21113,"y":0.016,"e":0.007},{"s":"G","x":21324,"y":0.014,"e":0.007},{"s":"G","x":21536,"y":0.021,"e":0.007},{"s":"G","x":21747,"y":0.016,"e":0.007},{"s":"G","x":21958,"y":0.011,"e":0.007},{"s":"G","x":22169,"y":0.022,"e":0.007},{"s":"G","x":22328,"y":0.014,"e":0.007},{"s":"G","x":22486,"y":0.002,"e":0.007},{"s":"G","x":22645,"y":-0.004,"e":0.007},{"s":"G","x":22803,"y":0.010,"e":0.007},{"s":"G","x":23014,"y":0.0,"e":0.007},{"s":"G","x":23173,"y":0.010,"e":0.007},{"s":"G","x":23204,"y":0.039,"e":0.007},{"s":"G","x":22993,"y":0.070,"e":0.007},{"s":"G","x":23247,"y":0.082,"e":0.007},{"s":"G","x":23490,"y":0.073,"e":0.007},{"s":"G","x":23648,"y":0.067,"e":0.007},{"s":"G","x":23754,"y":0.066,"e":0.007},{"s":"G","x":23807,"y":0.055,"e":0.007},{"s":"G","x":23912,"y":0.056,"e":0.007},{"s":"G","x":23627,"y":0.005,"e":0.007},
{"s":"G","x":20300,"y":0.007,"e":0.007},{"s":"G","x":20691,"y":0.0,"e":0.007},{"s":"G","x":21060,"y":0.0,"e":0.007},{"s":"G","x":21377,"y":-0.002,"e":0.007},{"s":"G","x":21641,"y":0.003,"e":0.007},{"s":"G","x":21905,"y":-0.007,"e":0.007},{"s":"G","x":22117,"y":-0.010,"e":0.007},{"s":"G","x":22275,"y":-0.022,"e":0.007},{"s":"G","x":22592,"y":-0.007,"e":0.007},{"s":"G","x":22909,"y":-0.028,"e":0.007},{"s":"G","x":23067,"y":-0.024,"e":0.007},{"s":"G","x":23100,"y":-0.017,"e":0.007},{"s":"G","x":23437,"y":-0.038,"e":0.007},{"s":"G","x":23384,"y":-0.052,"e":0.007},{"s":"G","x":23400,"y":-0.059,"e":0.007},{"s":"G","x":23648,"y":-0.065,"e":0.007},{"s":"G","x":23859,"y":-0.045,"e":0.007},{"s":"G","x":24071,"y":-0.015,"e":0.007},{"s":"G","x":24176,"y":-0.028,"e":0.007},{"s":"G","x":24229,"y":-0.041,"e":0.007},{"s":"G","x":24387,"y":-0.017,"e":0.007},{"s":"G","x":24400,"y":-0.028,"e":0.007},{"s":"G","x":24335,"y":0.036,"e":0.007},{"s":"G","x":24493,"y":0.024,"e":0.007},{"s":"G","x":24546,"y":0.026,"e":0.007},{"s":"G","x":24757,"y":0.017,"e":0.007},{"s":"G","x":25021,"y":0.016,"e":0.007},{"s":"G","x":25232,"y":0.016,"e":0.007},{"s":"G","x":25444,"y":0.012,"e":0.007},{"s":"G","x":25655,"y":0.010,"e":0.007},{"s":"G","x":25866,"y":0.002,"e":0.007},{"s":"G","x":26130,"y":0.007,"e":0.007},{"s":"G","x":26289,"y":0.014,"e":0.007},{"s":"G","x":26500,"y":0.007,"e":0.007},{"s":"G","x":26764,"y":0.012,"e":0.007},{"s":"G","x":26711,"y":0.024,"e":0.007},{"s":"G","x":26817,"y":0.046,"e":0.007},{"s":"G","x":26658,"y":-0.010,"e":0.007},{"s":"G","x":26605,"y":-0.036,"e":0.007},{"s":"G","x":24916,"y":-0.015,"e":0.007},{"s":"G","x":25127,"y":0.003,"e":0.007},{"s":"G","x":25338,"y":-0.014,"e":0.007},{"s":"G","x":25549,"y":-0.013,"e":0.007},{"s":"G","x":25760,"y":-0.013,"e":0.007},{"s":"G","x":25972,"y":-0.005,"e":0.007},{"s":"G","x":26183,"y":-0.007,"e":0.007},{"s":"G","x":26394,"y":-0.017,"e":0.007},{"s":"G","x":26553,"y":-0.004,"e":0.007},{"s":"G","x":26420,"y":0.003,"e":0.007},{"s":"G","x":25707,"y":-0.022,"e":0.007},{"s":"G","x":24810,"y":-0.017,"e":0.007}
],
"by": [
{"s":"L","x":3898,"y":0.136,"e":0.008},{"s":"L","x":5904,"y":0.099,"e":0.008},{"s":"L","x":359,"y":0.049,"e":0.008},{"s":"L","x":571,"y":0.049,"e":0.008},{"s":"L","x":761,"y":0.052,"e":0.008},{"s":"L","x":972,"y":0.034,"e":0.008},{"s":"L","x":1204,"y":0.034,"e":0.008},{"s":"L","x":3475,"y":0.050,"e":0.008},{"s":"L","x":3686,"y":0.052,"e":0.008},{"s":"L","x":64,"y":0.025,"e":0.008},{"s":"L","x":254,"y":0.023,"e":0.008},{"s":"L","x":2102,"y":0.029,"e":0.008},{"s":"L","x":2683,"y":0.027,"e":0.008},{"s":"L","x":2894,"y":0.024,"e":0.008},{"s":"L","x":3528,"y":0.029,"e":0.008},{"s":"L","x":3739,"y":0.023,"e":0.008},{"s":"L","x":4531,"y":0.037,"e":0.008},{"s":"L","x":4637,"y":0.031,"e":0.008},{"s":"L","x":4795,"y":0.040,"e":0.008},{"s":"L","x":5007,"y":0.035,"e":0.008},{"s":"L","x":5218,"y":0.034,"e":0.008},{"s":"L","x":5271,"y":0.043,"e":0.008},{"s":"L","x":5482,"y":0.052,"e":0.008},{"s":"L","x":6115,"y":0.061,"e":0.008},{"s":"L","x":6274,"y":0.059,"e":0.008},{"s":"L","x":6221,"y":0.050,"e":0.008},{"s":"L","x":6150,"y":0.026,"e":0.008},
{"s":"L","x":-63,"y":-0.042,"e":0.008},{"s":"L","x":148,"y":-0.033,"e":0.008},{"s":"L","x":233,"y":-0.038,"e":0.008},{"s":"L","x":444,"y":-0.054,"e":0.008},{"s":"L","x":655,"y":-0.060,"e":0.008},{"s":"L","x":887,"y":-0.033,"e":0.008},{"s":"L","x":1099,"y":-0.024,"e":0.008},{"s":"L","x":676,"y":-0.029,"e":0.008},{"s":"L","x":2208,"y":-0.024,"e":0.008},{"s":"L","x":2387,"y":-0.030,"e":0.008},{"s":"L","x":2630,"y":-0.024,"e":0.008},{"s":"L","x":2789,"y":-0.027,"e":0.008},{"s":"L","x":3000,"y":-0.029,"e":0.008},{"s":"L","x":3264,"y":-0.033,"e":0.008},{"s":"L","x":3475,"y":-0.047,"e":0.008},{"s":"L","x":3581,"y":-0.055,"e":0.008},{"s":"L","x":3792,"y":-0.051,"e":0.008},{"s":"L","x":3845,"y":-0.037,"e":0.008},{"s":"L","x":4003,"y":-0.047,"e":0.008},{"s":"L","x":4056,"y":-0.073,"e":0.008},{"s":"L","x":4426,"y":-0.040,"e":0.008},{"s":"L","x":4690,"y":-0.034,"e":0.008},{"s":"L","x":4901,"y":-0.040,"e":0.008},{"s":"L","x":5112,"y":-0.037,"e":0.008},{"s":"L","x":5376,"y":-0.051,"e":0.008},{"s":"L","x":4500,"y":-0.090,"e":0.008},{"s":"L","x":5323,"y":-0.072,"e":0.008},{"s":"L","x":5746,"y":-0.101,"e":0.008},{"s":"L","x":5535,"y":-0.164,"e":0.008},{"s":"L","x":5799,"y":-0.067,"e":0.008},{"s":"L","x":6010,"y":-0.058,"e":0.008},{"s":"L","x":6221,"y":-0.051,"e":0.008},{"s":"L","x":6380,"y":-0.057,"e":0.008},{"s":"L","x":6538,"y":-0.038,"e":0.008},
{"s":"L","x":-169,"y":0.007,"e":0.008},{"s":"L","x":412,"y":0.012,"e":0.008},{"s":"L","x":835,"y":0.003,"e":0.008},{"s":"L","x":1468,"y":0.012,"e":0.008},{"s":"L","x":1680,"y":0.005,"e":0.008},{"s":"L","x":2260,"y":0.012,"e":0.008},{"s":"L","x":2472,"y":0.012,"e":0.008},{"s":"L","x":2841,"y":0.005,"e":0.008},{"s":"L","x":3105,"y":-0.009,"e":0.008},{"s":"L","x":3317,"y":0.007,"e":0.008},{"s":"L","x":3739,"y":-0.011,"e":0.008},{"s":"L","x":4267,"y":-0.002,"e":0.008},{"s":"L","x":5535,"y":0.007,"e":0.008},{"s":"L","x":5957,"y":-0.015,"e":0.008},{"s":"L","x":6380,"y":-0.002,"e":0.008},{"s":"L","x":1800,"y":-0.015,"e":0.008},{"s":"L","x":2000,"y":-0.020,"e":0.008},{"s":"L","x":2500,"y":-0.018,"e":0.008},
{"s":"L","x":6833,"y":0.073,"e":0.008},{"s":"L","x":7066,"y":0.062,"e":0.008},{"s":"L","x":7277,"y":0.048,"e":0.008},{"s":"L","x":7488,"y":0.043,"e":0.008},{"s":"L","x":7910,"y":0.033,"e":0.008},{"s":"L","x":8122,"y":0.035,"e":0.008},{"s":"L","x":8333,"y":0.042,"e":0.008},{"s":"L","x":8544,"y":0.048,"e":0.008},{"s":"L","x":8756,"y":0.039,"e":0.008},{"s":"L","x":9020,"y":0.033,"e":0.008},{"s":"L","x":9284,"y":0.042,"e":0.008},{"s":"L","x":9495,"y":0.032,"e":0.008},{"s":"L","x":9812,"y":0.048,"e":0.008},{"s":"L","x":9917,"y":0.042,"e":0.008},{"s":"L","x":6485,"y":0.039,"e":0.008},{"s":"L","x":6749,"y":0.039,"e":0.008},{"s":"L","x":6770,"y":0.028,"e":0.008},{"s":"L","x":12188,"y":0.028,"e":0.008},{"s":"L","x":12400,"y":0.032,"e":0.008},{"s":"L","x":12611,"y":0.038,"e":0.008},{"s":"L","x":12769,"y":0.028,"e":0.008},{"s":"L","x":13086,"y":0.048,"e":0.008},{"s":"L","x":13244,"y":0.046,"e":0.008},{"s":"L","x":13403,"y":0.043,"e":0.008},{"s":"L","x":12980,"y":0.030,"e":0.008},{"s":"L","x":8861,"y":0.028,"e":0.008},{"s":"L","x":8597,"y":0.025,"e":0.008},{"s":"L","x":10340,"y":0.025,"e":0.008},{"s":"L","x":10763,"y":0.019,"e":0.008},{"s":"L","x":11290,"y":0.019,"e":0.008},{"s":"L","x":11713,"y":0.019,"e":0.008},{"s":"L","x":11924,"y":0.021,"e":0.008},
{"s":"L","x":6643,"y":-0.072,"e":0.008},{"s":"L","x":6907,"y":-0.065,"e":0.008},{"s":"L","x":7171,"y":-0.075,"e":0.008},{"s":"L","x":7382,"y":-0.070,"e":0.008},{"s":"L","x":7594,"y":-0.038,"e":0.008},{"s":"L","x":7805,"y":-0.027,"e":0.008},{"s":"L","x":8228,"y":-0.034,"e":0.008},{"s":"L","x":8492,"y":-0.045,"e":0.008},{"s":"L","x":8703,"y":-0.038,"e":0.008},{"s":"L","x":8914,"y":-0.042,"e":0.008},{"s":"L","x":9125,"y":-0.040,"e":0.008},{"s":"L","x":9389,"y":-0.045,"e":0.008},{"s":"L","x":9653,"y":-0.028,"e":0.008},{"s":"L","x":10076,"y":-0.022,"e":0.008},{"s":"L","x":10604,"y":-0.020,"e":0.008},{"s":"L","x":11396,"y":-0.022,"e":0.008},{"s":"L","x":11607,"y":-0.020,"e":0.008},{"s":"L","x":11871,"y":-0.022,"e":0.008},{"s":"L","x":12241,"y":-0.042,"e":0.008},{"s":"L","x":12505,"y":-0.054,"e":0.008},{"s":"L","x":12769,"y":-0.029,"e":0.008},{"s":"L","x":12928,"y":-0.031,"e":0.008},{"s":"L","x":6485,"y":-0.038,"e":0.008},{"s":"L","x":6538,"y":-0.056,"e":0.008},
{"s":"L","x":7066,"y":-0.002,"e":0.008},{"s":"L","x":7805,"y":0.003,"e":0.008},{"s":"L","x":8544,"y":0.007,"e":0.008},{"s":"L","x":9178,"y":-0.011,"e":0.008},{"s":"L","x":9601,"y":-0.006,"e":0.008},{"s":"L","x":10129,"y":0.009,"e":0.008},{"s":"L","x":10868,"y":0.005,"e":0.008},{"s":"L","x":11185,"y":0.0,"e":0.008},{"s":"L","x":11502,"y":0.007,"e":0.008},{"s":"L","x":11924,"y":-0.004,"e":0.008},{"s":"L","x":12347,"y":0.009,"e":0.008},{"s":"L","x":13192,"y":-0.006,"e":0.008},
{"s":"L","x":13298,"y":0.041,"e":0.008},{"s":"L","x":13509,"y":0.043,"e":0.008},{"s":"L","x":13720,"y":0.050,"e":0.008},{"s":"L","x":13932,"y":0.048,"e":0.008},{"s":"L","x":14143,"y":0.049,"e":0.008},{"s":"L","x":14354,"y":0.053,"e":0.008},{"s":"L","x":14565,"y":0.056,"e":0.008},{"s":"L","x":14777,"y":0.056,"e":0.008},{"s":"L","x":15305,"y":0.049,"e":0.008},{"s":"L","x":15516,"y":0.052,"e":0.008},{"s":"L","x":15093,"y":0.033,"e":0.008},{"s":"L","x":15674,"y":0.028,"e":0.008},{"s":"L","x":15886,"y":0.025,"e":0.008},{"s":"L","x":16308,"y":0.047,"e":0.008},{"s":"L","x":15690,"y":0.042,"e":0.008},{"s":"L","x":16044,"y":0.037,"e":0.008},{"s":"L","x":17311,"y":0.029,"e":0.008},{"s":"L","x":17522,"y":0.029,"e":0.008},{"s":"L","x":17259,"y":0.018,"e":0.008},{"s":"L","x":17734,"y":0.021,"e":0.008},{"s":"L","x":18104,"y":0.017,"e":0.008},{"s":"L","x":18262,"y":0.014,"e":0.008},
{"s":"L","x":13456,"y":-0.033,"e":0.008},{"s":"L","x":13667,"y":-0.054,"e":0.008},{"s":"L","x":13879,"y":-0.054,"e":0.008},{"s":"L","x":14090,"y":-0.045,"e":0.008},{"s":"L","x":14301,"y":-0.048,"e":0.008},{"s":"L","x":14512,"y":-0.051,"e":0.008},{"s":"L","x":14724,"y":-0.049,"e":0.008},{"s":"L","x":15410,"y":-0.045,"e":0.008},{"s":"L","x":15674,"y":-0.045,"e":0.008},{"s":"L","x":15833,"y":-0.038,"e":0.008},{"s":"L","x":16097,"y":-0.038,"e":0.008},{"s":"L","x":16308,"y":-0.038,"e":0.008},{"s":"L","x":16414,"y":-0.051,"e":0.008},{"s":"L","x":16466,"y":-0.058,"e":0.008},{"s":"L","x":16678,"y":-0.038,"e":0.008},{"s":"L","x":16730,"y":-0.022,"e":0.008},{"s":"L","x":16942,"y":-0.011,"e":0.008},{"s":"L","x":17206,"y":-0.020,"e":0.008},{"s":"L","x":17417,"y":-0.022,"e":0.008},{"s":"L","x":17628,"y":-0.024,"e":0.008},{"s":"L","x":17839,"y":-0.029,"e":0.008},{"s":"L","x":18104,"y":-0.018,"e":0.008},{"s":"L","x":18315,"y":-0.015,"e":0.008},{"s":"L","x":18579,"y":-0.009,"e":0.008},{"s":"L","x":19107,"y":-0.002,"e":0.008},{"s":"L","x":19899,"y":-0.018,"e":0.008},
{"s":"L","x":13351,"y":0.025,"e":0.008},{"s":"L","x":13520,"y":0.030,"e":0.008},{"s":"L","x":13773,"y":0.021,"e":0.008},{"s":"L","x":13984,"y":0.016,"e":0.008},{"s":"L","x":14196,"y":0.025,"e":0.008},{"s":"L","x":14407,"y":0.005,"e":0.008},{"s":"L","x":14618,"y":0.003,"e":0.008},{"s":"L","x":14829,"y":-0.002,"e":0.008},{"s":"L","x":15041,"y":0.005,"e":0.008},{"s":"L","x":15305,"y":-0.006,"e":0.008},{"s":"L","x":15516,"y":-0.022,"e":0.008},{"s":"L","x":15780,"y":-0.027,"e":0.008},{"s":"L","x":15991,"y":-0.022,"e":0.008},{"s":"L","x":16202,"y":-0.018,"e":0.008},{"s":"L","x":16414,"y":-0.011,"e":0.008},{"s":"L","x":16625,"y":-0.006,"e":0.008},{"s":"L","x":16836,"y":0.003,"e":0.008},{"s":"L","x":17469,"y":0.007,"e":0.008},{"s":"L","x":17892,"y":0.005,"e":0.008},{"s":"L","x":18209,"y":-0.002,"e":0.008},{"s":"L","x":18526,"y":0.005,"e":0.008},{"s":"L","x":18843,"y":0.005,"e":0.008},{"s":"L","x":19160,"y":0.012,"e":0.008},{"s":"L","x":19477,"y":0.009,"e":0.008},{"s":"L","x":19794,"y":0.003,"e":0.008},{"s":"L","x":20110,"y":0.012,"e":0.008},{"s":"L","x":15231,"y":-0.117,"e":0.008},{"s":"L","x":16572,"y":-0.045,"e":0.041},
{"s":"L","x":20215,"y":0.030,"e":0.008},{"s":"L","x":20374,"y":0.021,"e":0.008},{"s":"L","x":20691,"y":0.017,"e":0.008},{"s":"L","x":21008,"y":0.016,"e":0.008},{"s":"L","x":21324,"y":0.014,"e":0.008},{"s":"L","x":21641,"y":0.017,"e":0.008},{"s":"L","x":21958,"y":0.014,"e":0.008},{"s":"L","x":22222,"y":0.016,"e":0.008},{"s":"L","x":22433,"y":0.023,"e":0.008},{"s":"L","x":22645,"y":0.015,"e":0.008},{"s":"L","x":22909,"y":0.013,"e":0.008},{"s":"L","x":23173,"y":0.015,"e":0.008},{"s":"L","x":23437,"y":0.017,"e":0.008},{"s":"L","x":20374,"y":-0.024,"e":0.008},{"s":"L","x":20744,"y":-0.022,"e":0.008},{"s":"L","x":21060,"y":-0.020,"e":0.008},{"s":"L","x":21430,"y":-0.016,"e":0.008},{"s":"L","x":21747,"y":-0.018,"e":0.008},{"s":"L","x":22064,"y":-0.020,"e":0.008},{"s":"L","x":22328,"y":-0.021,"e":0.008},{"s":"L","x":22698,"y":-0.016,"e":0.008},{"s":"L","x":22962,"y":-0.018,"e":0.008},{"s":"L","x":23226,"y":-0.025,"e":0.008},{"s":"L","x":23099,"y":-0.046,"e":0.008},{"s":"L","x":25760,"y":0.016,"e":0.008},{"s":"L","x":26183,"y":0.025,"e":0.008},{"s":"L","x":26394,"y":0.012,"e":0.008},{"s":"L","x":26605,"y":0.016,"e":0.008},{"s":"L","x":26817,"y":0.012,"e":0.008},{"s":"L","x":26341,"y":-0.011,"e":0.008},{"s":"L","x":26500,"y":-0.015,"e":0.008},{"s":"L","x":26658,"y":-0.024,"e":0.008},{"s":"L","x":26764,"y":-0.002,"e":0.008},{"s":"L","x":20585,"y":-0.004,"e":0.008},{"s":"L","x":21113,"y":0.0,"e":0.008},{"s":"L","x":21641,"y":-0.004,"e":0.008},{"s":"L","x":22169,"y":-0.001,"e":0.008},{"s":"L","x":22698,"y":-0.002,"e":0.008},{"s":"L","x":23226,"y":0.003,"e":0.008},
{"s":"G","x":307,"y":0.014,"e":0.008},{"s":"G","x":518,"y":0.015,"e":0.008},{"s":"G","x":729,"y":0.015,"e":0.008},{"s":"G","x":1310,"y":0.017,"e":0.008},{"s":"G","x":1521,"y":0.017,"e":0.008},{"s":"G","x":1732,"y":0.017,"e":0.008},{"s":"G","x":1944,"y":0.023,"e":0.008},{"s":"G","x":2789,"y":0.016,"e":0.008},{"s":"G","x":3158,"y":0.021,"e":0.008},{"s":"G","x":3475,"y":0.014,"e":0.008},{"s":"G","x":3898,"y":0.012,"e":0.008},{"s":"G","x":4162,"y":0.010,"e":0.008},{"s":"G","x":5112,"y":0.014,"e":0.008},{"s":"G","x":5429,"y":0.016,"e":0.008},{"s":"G","x":5640,"y":0.014,"e":0.008},{"s":"G","x":5904,"y":0.016,"e":0.008},{"s":"G","x":6115,"y":0.017,"e":0.008},{"s":"G","x":6380,"y":0.027,"e":0.008},
{"s":"G","x":-63,"y":-0.012,"e":0.008},{"s":"G","x":148,"y":-0.011,"e":0.008},{"s":"G","x":412,"y":-0.023,"e":0.008},{"s":"G","x":655,"y":-0.028,"e":0.008},{"s":"G","x":993,"y":-0.004,"e":0.008},{"s":"G","x":1416,"y":-0.013,"e":0.008},{"s":"G","x":1627,"y":-0.013,"e":0.008},{"s":"G","x":1838,"y":-0.011,"e":0.008},{"s":"G","x":2260,"y":-0.020,"e":0.008},{"s":"G","x":2472,"y":-0.016,"e":0.008},{"s":"G","x":2789,"y":-0.006,"e":0.008},{"s":"G","x":2947,"y":-0.038,"e":0.008},{"s":"G","x":3000,"y":-0.027,"e":0.008},{"s":"G","x":3211,"y":-0.025,"e":0.008},{"s":"G","x":3422,"y":-0.018,"e":0.008},{"s":"G","x":4056,"y":-0.011,"e":0.008},{"s":"G","x":4267,"y":-0.011,"e":0.008},{"s":"G","x":4584,"y":-0.009,"e":0.008},{"s":"G","x":4901,"y":-0.011,"e":0.008},{"s":"G","x":5323,"y":-0.019,"e":0.008},{"s":"G","x":5535,"y":-0.018,"e":0.008},{"s":"G","x":5799,"y":-0.027,"e":0.008},{"s":"G","x":6010,"y":-0.013,"e":0.008},{"s":"G","x":6221,"y":-0.027,"e":0.008},{"s":"G","x":6485,"y":-0.025,"e":0.008},
{"s":"G","x":42,"y":0.0015,"e":0.008},{"s":"G","x":254,"y":0.006,"e":0.008},{"s":"G","x":571,"y":0.004,"e":0.008},{"s":"G","x":887,"y":0.006,"e":0.008},{"s":"G","x":1204,"y":0.004,"e":0.008},{"s":"G","x":1468,"y":-0.002,"e":0.008},{"s":"G","x":1750,"y":0.0015,"e":0.008},{"s":"G","x":2049,"y":0.007,"e":0.008},{"s":"G","x":2313,"y":0.006,"e":0.008},{"s":"G","x":2577,"y":0.004,"e":0.008},{"s":"G","x":2894,"y":0.0015,"e":0.008},{"s":"G","x":3230,"y":-0.002,"e":0.008},{"s":"G","x":3528,"y":0.006,"e":0.008},{"s":"G","x":3845,"y":0.0015,"e":0.008},{"s":"G","x":4280,"y":0.004,"e":0.008},{"s":"G","x":4600,"y":0.006,"e":0.008},{"s":"G","x":4848,"y":0.007,"e":0.008},{"s":"G","x":5165,"y":-0.002,"e":0.008},{"s":"G","x":5482,"y":0.006,"e":0.008},{"s":"G","x":5820,"y":0.004,"e":0.008},{"s":"G","x":6063,"y":0.006,"e":0.008},{"s":"G","x":6400,"y":0.0015,"e":0.008},
{"s":"G","x":6485,"y":0.025,"e":0.008},{"s":"G","x":7013,"y":0.014,"e":0.008},{"s":"G","x":7805,"y":0.016,"e":0.008},{"s":"G","x":8544,"y":0.017,"e":0.008},{"s":"G","x":8756,"y":0.016,"e":0.008},{"s":"G","x":9495,"y":0.016,"e":0.008},{"s":"G","x":9812,"y":0.030,"e":0.008},{"s":"G","x":10340,"y":0.013,"e":0.008},{"s":"G","x":10551,"y":0.012,"e":0.008},{"s":"G","x":10974,"y":0.017,"e":0.008},{"s":"G","x":11396,"y":0.012,"e":0.008},{"s":"G","x":11819,"y":0.012,"e":0.008},{"s":"G","x":12188,"y":0.016,"e":0.008},{"s":"G","x":12558,"y":0.025,"e":0.008},{"s":"G","x":12822,"y":0.019,"e":0.008},{"s":"G","x":13192,"y":0.007,"e":0.008},
{"s":"G","x":6538,"y":-0.024,"e":0.008},{"s":"G","x":6907,"y":-0.018,"e":0.008},{"s":"G","x":7171,"y":-0.031,"e":0.008},{"s":"G","x":7382,"y":-0.024,"e":0.008},{"s":"G","x":7820,"y":-0.006,"e":0.008},{"s":"G","x":8228,"y":-0.013,"e":0.008},{"s":"G","x":8650,"y":-0.011,"e":0.008},{"s":"G","x":8914,"y":-0.015,"e":0.008},{"s":"G","x":9231,"y":-0.020,"e":0.008},{"s":"G","x":9442,"y":-0.018,"e":0.008},{"s":"G","x":9706,"y":-0.011,"e":0.008},{"s":"G","x":10076,"y":-0.006,"e":0.008},{"s":"G","x":10604,"y":-0.020,"e":0.008},{"s":"G","x":10868,"y":-0.018,"e":0.008},{"s":"G","x":11420,"y":-0.006,"e":0.008},{"s":"G","x":11840,"y":-0.004,"e":0.008},{"s":"G","x":12294,"y":-0.033,"e":0.008},{"s":"G","x":12505,"y":-0.041,"e":0.008},{"s":"G","x":12716,"y":-0.015,"e":0.008},{"s":"G","x":12928,"y":-0.019,"e":0.008},
{"s":"G","x":6643,"y":0.003,"e":0.008},{"s":"G","x":6854,"y":0.005,"e":0.008},{"s":"G","x":7190,"y":0.003,"e":0.008},{"s":"G","x":7488,"y":0.005,"e":0.008},{"s":"G","x":7963,"y":0.007,"e":0.008},{"s":"G","x":8280,"y":0.005,"e":0.008},{"s":"G","x":8492,"y":0.003,"e":0.008},{"s":"G","x":9020,"y":0.0005,"e":0.008},{"s":"G","x":9284,"y":0.005,"e":0.008},{"s":"G","x":9601,"y":0.007,"e":0.008},{"s":"G","x":9970,"y":0.003,"e":0.008},{"s":"G","x":10234,"y":-0.002,"e":0.008},{"s":"G","x":10657,"y":0.0005,"e":0.008},{"s":"G","x":11079,"y":0.003,"e":0.008},{"s":"G","x":11502,"y":0.003,"e":0.008},{"s":"G","x":11924,"y":0.005,"e":0.008},{"s":"G","x":12241,"y":0.003,"e":0.008},{"s":"G","x":12664,"y":0.0005,"e":0.008},{"s":"G","x":13086,"y":0.003,"e":0.008},{"s":"G","x":13350,"y":0.0005,"e":0.008},
{"s":"G","x":13773,"y":0.021,"e":0.008},{"s":"G","x":14512,"y":0.024,"e":0.008},{"s":"G","x":14724,"y":0.026,"e":0.008},{"s":"G","x":15410,"y":0.014,"e":0.008},{"s":"G","x":16308,"y":0.033,"e":0.008},{"s":"G","x":16625,"y":0.028,"e":0.008},{"s":"G","x":16730,"y":0.023,"e":0.008},{"s":"G","x":16836,"y":0.017,"e":0.008},{"s":"G","x":17311,"y":0.017,"e":0.008},{"s":"G","x":17522,"y":0.015,"e":0.008},{"s":"G","x":18262,"y":0.013,"e":0.008},{"s":"G","x":18684,"y":0.028,"e":0.008},{"s":"G","x":19899,"y":0.016,"e":0.008},
{"s":"G","x":13667,"y":-0.013,"e":0.008},{"s":"G","x":13879,"y":-0.034,"e":0.008},{"s":"G","x":14248,"y":-0.009,"e":0.008},{"s":"G","x":14618,"y":-0.020,"e":0.008},{"s":"G","x":14882,"y":-0.011,"e":0.008},{"s":"G","x":15674,"y":-0.022,"e":0.008},{"s":"G","x":15938,"y":-0.023,"e":0.008},{"s":"G","x":16414,"y":-0.027,"e":0.008},{"s":"G","x":16889,"y":-0.022,"e":0.008},{"s":"G","x":17787,"y":-0.022,"e":0.008},{"s":"G","x":18368,"y":-0.019,"e":0.008},{"s":"G","x":18579,"y":-0.027,"e":0.008},{"s":"G","x":18843,"y":-0.009,"e":0.008},
{"s":"G","x":13245,"y":0.003,"e":0.008},{"s":"G","x":13456,"y":0.0005,"e":0.008},{"s":"G","x":13680,"y":0.005,"e":0.008},{"s":"G","x":13984,"y":0.0095,"e":0.008},{"s":"G","x":14196,"y":0.003,"e":0.008},{"s":"G","x":14407,"y":0.0095,"e":0.008},{"s":"G","x":14740,"y":0.012,"e":0.008},{"s":"G","x":15041,"y":0.005,"e":0.008},{"s":"G","x":15357,"y":0.007,"e":0.008},{"s":"G","x":15621,"y":-0.002,"e":0.008},{"s":"G","x":15886,"y":0.005,"e":0.008},{"s":"G","x":16097,"y":0.003,"e":0.008},{"s":"G","x":16430,"y":0.005,"e":0.008},{"s":"G","x":16942,"y":-0.002,"e":0.008},{"s":"G","x":17259,"y":0.003,"e":0.008},{"s":"G","x":17469,"y":0.005,"e":0.008},{"s":"G","x":17800,"y":0.005,"e":0.008},{"s":"G","x":18104,"y":0.0005,"e":0.008},{"s":"G","x":18421,"y":0.003,"e":0.008},{"s":"G","x":18737,"y":0.005,"e":0.008},{"s":"G","x":19001,"y":0.007,"e":0.008},{"s":"G","x":19265,"y":0.008,"e":0.008},{"s":"G","x":19582,"y":0.003,"e":0.008},{"s":"G","x":20005,"y":0.0005,"e":0.008},{"s":"G","x":16625,"y":0.0,"e":0.082},
{"s":"G","x":20163,"y":-0.002,"e":0.008},{"s":"G","x":20374,"y":-0.011,"e":0.008},{"s":"G","x":20479,"y":0.005,"e":0.008},{"s":"G","x":20691,"y":0.007,"e":0.008},{"s":"G","x":20902,"y":0.005,"e":0.008},{"s":"G","x":21113,"y":0.005,"e":0.008},{"s":"G","x":21324,"y":0.003,"e":0.008},{"s":"G","x":21536,"y":0.005,"e":0.008},{"s":"G","x":21747,"y":0.004,"e":0.008},{"s":"G","x":21958,"y":0.003,"e":0.008},{"s":"G","x":22169,"y":0.002,"e":0.008},{"s":"G","x":22380,"y":0.0005,"e":0.008},{"s":"G","x":22592,"y":0.002,"e":0.008},{"s":"G","x":22803,"y":-0.002,"e":0.008},{"s":"G","x":23014,"y":0.003,"e":0.008},{"s":"G","x":23226,"y":-0.013,"e":0.008},{"s":"G","x":23437,"y":0.009,"e":0.008},{"s":"G","x":23542,"y":-0.018,"e":0.008},{"s":"G","x":23701,"y":0.012,"e":0.008},{"s":"G","x":23859,"y":0.005,"e":0.008},{"s":"G","x":24071,"y":0.007,"e":0.008},{"s":"G","x":24229,"y":0.020,"e":0.011},{"s":"G","x":24387,"y":0.005,"e":0.008},{"s":"G","x":24493,"y":-0.006,"e":0.008},{"s":"G","x":24599,"y":-0.010,"e":0.008},{"s":"G","x":24704,"y":-0.020,"e":0.008},{"s":"G","x":24810,"y":0.0005,"e":0.008},{"s":"G","x":24916,"y":0.017,"e":0.011},{"s":"G","x":25021,"y":-0.006,"e":0.008},{"s":"G","x":25127,"y":0.014,"e":0.008},{"s":"G","x":25338,"y":0.012,"e":0.008},{"s":"G","x":25549,"y":0.013,"e":0.008},{"s":"G","x":25760,"y":0.019,"e":0.008},{"s":"G","x":25972,"y":0.020,"e":0.008},{"s":"G","x":26130,"y":0.015,"e":0.008},{"s":"G","x":26289,"y":0.023,"e":0.008},{"s":"G","x":26500,"y":0.023,"e":0.008},{"s":"G","x":26605,"y":0.012,"e":0.008},{"s":"G","x":26764,"y":0.025,"e":0.008},{"s":"G","x":26817,"y":0.0005,"e":0.008},{"s":"G","x":24930,"y":-0.023,"e":0.011},{"s":"G","x":25232,"y":-0.013,"e":0.008},{"s":"G","x":25444,"y":-0.013,"e":0.008},{"s":"G","x":25655,"y":-0.020,"e":0.008},{"s":"G","x":25919,"y":-0.018,"e":0.008},{"s":"G","x":26150,"y":-0.024,"e":0.008},{"s":"G","x":26183,"y":-0.032,"e":0.008},{"s":"G","x":26394,"y":-0.020,"e":0.008},{"s":"G","x":26620,"y":-0.022,"e":0.008},{"s":"G","x":26711,"y":-0.024,"e":0.008},{"s":"G","x":20796,"y":-0.006,"e":0.008},{"s":"G","x":21219,"y":-0.005,"e":0.008},{"s":"G","x":21641,"y":-0.006,"e":0.008},{"s":"G","x":22064,"y":-0.004,"e":0.008},{"s":"G","x":22486,"y":-0.004,"e":0.008},{"s":"G","x":22909,"y":-0.007,"e":0.008},{"s":"G","x":23099,"y":-0.073,"e":0.008}
],
"ir": [
{"t":"IR8","x":760,"y":0.172},{"t":"IR1","x":3758,"y":0.172},{"t":"IR2","x":6756,"y":0.172},{"t":"IR3","x":9912,"y":0.172},{"t":"IR4","x":13289,"y":0.172},{"t":"IR5","x":16635,"y":0.172},{"t":"IR6","x":20390,"y":0.172},{"t":"IR7","x":23325,"y":0.179}
]
},
"resolve": {"scale": {"color": "independent"}, "legend": {"color": "independent"}},
"vconcat": [
{
 "width": 865, "height": 291,
 "data": {"name": "bx"},
 "title": {"text": "LHCB2 β* = 2.5 km", "anchor": "end", "fontSize": 28, "fontWeight": "normal", "font": "DejaVu Sans", "color": "#000", "offset": -10},
 "layer": [
  {"mark": {"type": "errorbar", "ticks": {"size": 9, "strokeWidth": 1.4}, "rule": {"strokeWidth": 1.4}, "clip": true, "opacity": 0.8},
   "encoding": {
    "x": {"field": "x", "type": "quantitative", "scale": {"domain": [-250, 27050], "nice": false, "zero": false}, "axis": {"orient": "top", "labels": false, "title": null, "values": [0, 5000, 10000, 15000, 20000, 25000]}},
    "y": {"field": "y", "type": "quantitative", "scale": {"domain": [-0.15, 0.15], "nice": false, "zero": false}, "axis": {"orient": "right", "labels": false, "title": null, "values": [-0.15, -0.1, -0.05, 0, 0.05, 0.1, 0.15]}},
    "yError": {"field": "e"},
    "color": {"field": "s", "type": "nominal", "scale": {"domain": ["L", "G"], "range": ["#ef7b0a", "#3563a3"]}, "legend": null}
   }},
  {"mark": {"type": "point", "filled": true, "size": 110, "opacity": 1, "stroke": "#1a1a1a", "strokeOpacity": 0.25, "strokeWidth": 0.8},
   "encoding": {
    "x": {"field": "x", "type": "quantitative", "axis": {"orient": "bottom", "labels": false, "title": null, "values": [0, 5000, 10000, 15000, 20000, 25000]}},
    "y": {"field": "y", "type": "quantitative", "axis": {"orient": "left", "format": ".2f", "values": [-0.15, -0.1, -0.05, 0, 0.05, 0.1, 0.15], "title": "Δβx /βx", "titleFont": "DejaVu Serif", "titleFontStyle": "italic", "titleFontSize": 28, "titlePadding": 8}},
    "color": {"field": "s", "type": "nominal", "scale": {"domain": ["L", "G"], "range": ["#ef7b0a", "#3563a3"]}, "legend": null}
   }}
 ],
 "resolve": {"axis": {"x": "independent", "y": "independent"}}
},
{
 "width": 865, "height": 291,
 "layer": [
  {"data": {"name": "by"},
   "mark": {"type": "errorbar", "ticks": {"size": 9, "strokeWidth": 1.4}, "rule": {"strokeWidth": 1.4}, "clip": true, "opacity": 0.8},
   "encoding": {
    "x": {"field": "x", "type": "quantitative", "scale": {"domain": [-250, 27050], "nice": false, "zero": false}, "axis": {"orient": "top", "labels": false, "title": null, "values": [0, 5000, 10000, 15000, 20000, 25000]}},
    "y": {"field": "y", "type": "quantitative", "scale": {"domain": [-0.25, 0.15], "nice": false, "zero": false}, "axis": {"orient": "right", "labels": false, "title": null, "values": [-0.25, -0.2, -0.15, -0.1, -0.05, 0, 0.05, 0.1, 0.15]}},
    "yError": {"field": "e"},
    "color": {"field": "s", "type": "nominal", "scale": {"domain": ["L", "G"], "range": ["#ef7b0a", "#3563a3"]}}
   }},
  {"data": {"name": "by"},
   "mark": {"type": "point", "filled": true, "size": 110, "opacity": 1, "stroke": "#1a1a1a", "strokeOpacity": 0.25, "strokeWidth": 0.8},
   "encoding": {
    "x": {"field": "x", "type": "quantitative", "axis": {"orient": "bottom", "title": "Longitudinal location (m)", "titleFontSize": 26, "values": [0, 5000, 10000, 15000, 20000, 25000], "format": "d", "labelPadding": 35, "titlePadding": 4}},
    "y": {"field": "y", "type": "quantitative", "axis": {"orient": "left", "format": ".2f", "values": [-0.25, -0.2, -0.15, -0.1, -0.05, 0, 0.05, 0.1, 0.15], "title": "Δβy /βy", "titleFont": "DejaVu Serif", "titleFontStyle": "italic", "titleFontSize": 28, "titlePadding": 8}},
    "color": {"field": "s", "type": "nominal", "scale": {"domain": ["L", "G"], "range": ["#ef7b0a", "#3563a3"]}, "legend": {"title": null, "orient": "bottom-right", "offset": 10, "labelExpr": "datum.label == 'L' ? 'β*  = 2.5 km after local corrections' : 'β*  = 2.5 km after global corrections'", "labelFontSize": 22, "labelFont": "DejaVu Sans", "labelColor": "#000", "symbolType": "circle", "symbolSize": 110, "symbolOpacity": 1, "symbolFillColor": null, "strokeColor": "#000", "fillColor": "#fff", "padding": 10, "rowPadding": 14, "symbolOffset": 15, "labelOffset": 45, "labelLimit": 600}}
   }},
  {"data": {"name": "ir"},
   "mark": {"type": "text", "fontSize": 27, "font": "DejaVu Sans", "color": "#000", "baseline": "middle", "align": "center"},
   "encoding": {
    "x": {"field": "x", "type": "quantitative", "axis": null},
    "y": {"field": "y", "type": "quantitative", "axis": null},
    "text": {"field": "t"}
   }}
 ],
 "resolve": {"axis": {"x": "independent", "y": "independent"}}
}
]
}
